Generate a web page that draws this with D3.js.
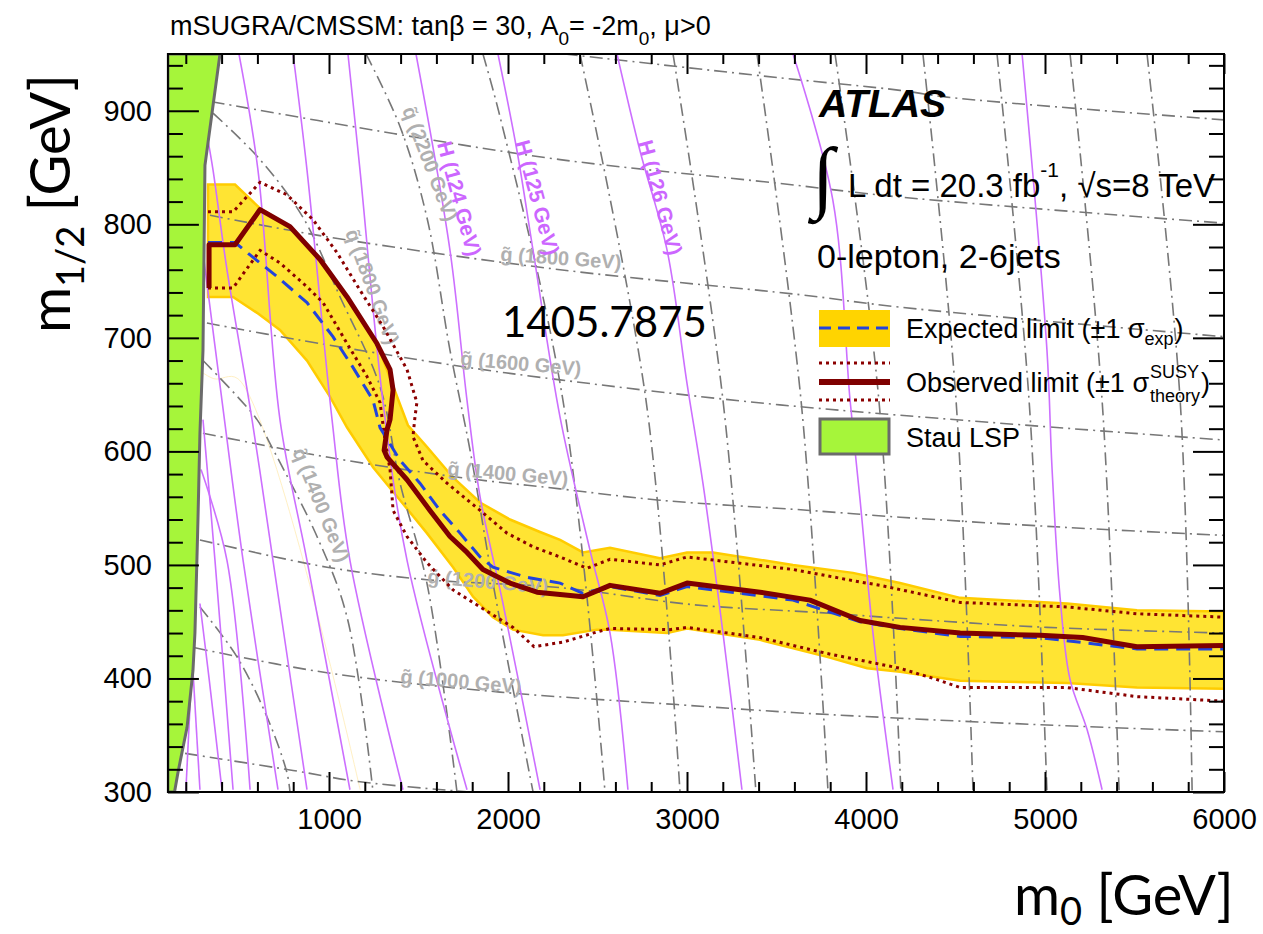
<!DOCTYPE html>
<html lang="en">
<head>
<meta charset="UTF-8">
<title>mSUGRA/CMSSM exclusion</title>
<script src="https://cdn.jsdelivr.net/npm/d3@7"></script>
<style>
body{margin:0;background:#fff}
svg text{font-family:"Liberation Sans",Arial,Helvetica,sans-serif}
.calibri{font-family:Lato,"Open Sans",sans-serif}
</style>
</head>
<body>
<svg id="chart" width="1263" height="934"></svg>
<script>
// ── axis ticks ──
var xMajor = [1000, 2000, 3000, 4000, 5000, 6000];
var xMinor = d3.range(200, 6001, 200).filter(function(v) { return v % 1000; });
var yMajor = [300, 400, 500, 600, 700, 800, 900];
var yMinor = d3.range(300, 951, 20).filter(function(v) { return v % 100; });

// ── limits [m0, m1/2] ──
var bandUpper = [[324,835],[475,835],[615,814],[782,798],[950,769],[1101,736],[1268,695],[1352,660],[1441,623],[1547,604],[1693,577],[1844,555],[2011,540],[2179,529],[2291,522],[2419,511],[2570,515],[2849,506],[3000,511],[3145,511],[3592,500],[3927,493],[4190,484],[4526,471],[5123,466],[5514,460],[6000,459]];
var bandLower = [[324,736],[464,736],[598,722],[726,707],[877,680],[1006,648],[1101,621],[1246,586],[1397,557],[1547,528],[1693,498],[1805,472],[1916,454],[2028,443],[2196,438],[2307,438],[2497,443],[2570,443],[2889,440],[3000,444],[3408,434],[3782,419],[4006,409],[4190,406],[4526,398],[5123,396],[5514,392],[6000,391]];
var expected = [[324,784],[475,784],[559,773],[710,754],[877,731],[1022,701],[1134,674],[1246,645],[1285,621],[1397,592],[1508,572],[1620,548],[1732,528],[1844,507],[1916,498],[2106,489],[2291,484],[2419,475],[2570,481],[2849,473],[3000,481],[3592,469],[3967,450],[4190,444],[4526,437],[4973,436],[5514,426],[6000,426]];
var observed = [[330,744],[330,782],[475,782],[615,813],[782,798],[950,769],[1101,736],[1268,695],[1341,672],[1358,654],[1341,628],[1324,619],[1308,601],[1324,595],[1436,575],[1564,548],[1676,525],[1771,511],[1860,496],[2011,484],[2162,476],[2291,474],[2419,472],[2570,482],[2849,475],[3000,484],[3408,476],[3687,469],[3967,451],[4190,445],[4526,440],[4973,438],[5210,436],[5514,428],[6000,429]];
var obsUp = [[324,811],[464,811],[615,837],[765,826],[911,804],[1045,775],[1173,742],[1302,710],[1436,672],[1491,643],[1480,630],[1469,613],[1525,592],[1659,572],[1844,548],[1994,528],[2140,516],[2291,507],[2441,497],[2570,505],[2849,500],[3000,507],[3592,496],[3967,485],[4079,482],[4526,467],[5123,463],[5514,457],[6000,454]];
var obsDown = [[324,744],[464,744],[615,777],[726,766],[877,745],[967,731],[1101,695],[1212,666],[1285,643],[1313,610],[1341,584],[1358,548],[1436,525],[1547,502],[1693,478],[1844,463],[2028,445],[2145,428],[2307,432],[2497,441],[2570,444],[2905,443],[3000,445],[3408,436],[3782,422],[4190,409],[4397,399],[4526,392],[5123,392],[5514,384],[6000,380]];
var stauLSP = [[100,950],[391,950],[307,852],[296,689],[279,616],[268,540],[262,504],[251,440],[240,407],[207,357],[156,317],[137,300],[100,300]];

// ── gluino mass contours ──
var gluino = [
  [[2318,950],[3519,929],[4190,918],[4452,912],[6000,892]],
  [[345,908],[1359,880],[2291,857],[3519,836],[4190,824],[6000,801]],
  [[335,808],[989,789],[2291,760],[3631,738],[4190,727],[6000,701]],
  [[318,713],[838,698],[1732,675],[2291,663],[3519,641],[6000,610]],
  [[296,616],[989,595],[1732,577],[2291,567],[2849,557],[3687,548],[4190,542],[5123,533],[6000,526]],
  [[279,522],[989,498],[1547,487],[2291,480],[3034,465],[3743,458],[4190,453],[5011,445],[6000,440]],
  [[251,427],[989,405],[1955,388],[2944,377],[3592,370],[4190,365],[5011,359],[6000,353]],
  [[196,334],[799,319],[1173,309],[1788,300]]
];
// ── squark mass contours ──
var squark = [
  [[279,463],[486,419],[654,366],[765,317],[782,300]],
  [[296,680],[598,628],[670,607],[933,525],[1101,454],[1246,300]],
  [[352,898],[615,857],[855,806],[1062,736],[1285,657],[1397,572],[1547,484],[1715,300]],
  [[1207,950],[1397,886],[1547,806],[1676,689],[1788,601],[1916,484],[2140,300]],
  [[1860,950],[1955,895],[2307,645],[2542,300]],
  [[2402,950],[2771,645],[2961,300]],
  [[2922,950],[3201,645],[3385,300]],
  [[3391,950],[3637,645],[3788,300]],
  [[3827,950],[4072,645],[4195,300]],
  [[4318,950],[4503,645],[4598,300]],
  [[4732,950],[4911,645],[5011,300]],
  [[5140,950],[5319,645],[5414,300]],
  [[5570,950],[5755,645],[5822,300]]
];
// ── Higgs mass contours ──
var higgs = [
  [[228,390],[200,300]],
  [[240,407],[279,302]],
  [[279,466],[330,400],[402,302]],
  [[296,628],[363,504],[464,302]],
  [[285,584],[430,504],[559,302]],
  [[302,768],[402,645],[520,504],[715,302]],
  [[324,874],[352,848],[430,760],[570,628],[687,504],[877,302]],
  [[497,950],[603,848],[726,628],[877,504],[1117,302]],
  [[799,950],[877,848],[1017,628],[1117,504],[1413,302]],
  [[1106,950],[1173,848],[1302,643],[1436,504],[1771,302]],
  [[1486,950],[1676,777],[1771,645],[1844,560],[1972,466],[2179,302]],
  [[1944,950],[2050,865],[2140,777],[2291,630],[2458,513],[2570,440],[2670,302]],
  [[2609,950],[2737,865],[2889,777],[3000,660],[3089,572],[3201,440],[3307,302]],
  [[3592,950],[3815,821],[3911,645],[3967,557],[4039,440],[4151,302]],
  [[4872,950],[5011,689],[5039,586],[5084,472],[5140,399],[5235,355],[5319,302]]
];
var faintLine = [[245,675],[357,664],[491,664],[1174,302]];

// ── contour labels: text, m0, m1/2, angle ──
var grayLabels = [
  ['q\u0303 (2200 GeV)', 1408, 901, 69],
  ['q\u0303 (1800 GeV)', 1090, 793, 70],
  ['q\u0303 (1400 GeV)', 795, 600, 68],
  ['g\u0303 (1800 GeV)', 1955, 768, 4],
  ['g\u0303 (1600 GeV)', 1732, 676, 5],
  ['g\u0303 (1400 GeV)', 1659, 579, 5],
  ['g\u0303 (1200 GeV)', 1547, 484, 5],
  ['g\u0303 (1000 GeV)', 1397, 396, 5]
];
var higgsLabels = [
  ['H (124 GeV)', 1603, 871, 75],
  ['H (125 GeV)', 2039, 872, 75],
  ['H (126 GeV)', 2726, 872, 75]
];

var svg = d3.select('#chart');
var x = d3.scaleLinear().domain([100, 6000]).range([167.9, 1224]);
var y = d3.scaleLinear().domain([300, 950]).range([792, 54]);

svg.append('defs').append('clipPath').attr('id', 'plotClip')
  .append('rect').attr('x', 167.9).attr('y', 54).attr('width', 1224 - 167.9).attr('height', 792 - 54);

var plot = svg.append('g').attr('clip-path', 'url(#plotClip)');
var poly = d3.line().x(function(d) { return x(d[0]); }).y(function(d) { return y(d[1]); });
var smooth = d3.line().x(function(d) { return x(d[0]); }).y(function(d) { return y(d[1]); })
  .curve(d3.curveCatmullRom.alpha(0.5));

// yellow expected band
plot.append('path')
  .attr('d', poly(bandUpper.concat(bandLower.slice().reverse())) + 'Z')
  .attr('fill', '#ffe433').attr('stroke', '#ffcc00').attr('stroke-width', 2.5);

plot.append('path').attr('d', smooth(faintLine))
  .attr('fill', 'none').attr('stroke', '#fff0c4').attr('stroke-width', 1);

// gray sparticle contours
gluino.concat(squark).forEach(function(line) {
  plot.append('path').attr('d', smooth(line))
    .attr('fill', 'none').attr('stroke', '#777').attr('stroke-width', 1.6)
    .attr('stroke-dasharray', '13,5,2,5');
});
// purple higgs contours
higgs.forEach(function(line) {
  plot.append('path').attr('d', smooth(line))
    .attr('fill', 'none').attr('stroke', '#cc6fff').attr('stroke-width', 1.6);
});

grayLabels.forEach(function(l) {
  plot.append('text')
    .attr('transform', 'translate(' + x(l[1]) + ',' + y(l[2]) + ') rotate(' + l[3] + ')')
    .attr('font-size', 20).attr('font-weight', 'bold').attr('fill', '#b0b0b0').text(l[0]);
});
higgsLabels.forEach(function(l) {
  plot.append('text')
    .attr('transform', 'translate(' + x(l[1]) + ',' + y(l[2]) + ') rotate(' + l[3] + ')')
    .attr('font-size', 21).attr('font-weight', 'bold').attr('fill', '#cc66ff').text(l[0]);
});

// limit lines
[obsUp, obsDown].forEach(function(line) {
  plot.append('path').attr('d', poly(line))
    .attr('fill', 'none').attr('stroke', '#8b0000').attr('stroke-width', 3)
    .attr('stroke-dasharray', '3,4');
});
plot.append('path').attr('d', poly(expected))
  .attr('fill', 'none').attr('stroke', '#2244dd').attr('stroke-width', 3)
  .attr('stroke-dasharray', '14,8');
plot.append('path').attr('d', poly(observed))
  .attr('fill', 'none').attr('stroke', '#7f0000').attr('stroke-width', 5)
  .attr('stroke-linejoin', 'round');

// stau LSP region
plot.append('path').attr('d', poly(stauLSP) + 'Z')
  .attr('fill', '#a6f53a').attr('stroke', '#6b6b6b').attr('stroke-width', 3);

// frame + ticks
function ticks(axisFn, values, size, transform, labels) {
  var scale = (axisFn === d3.axisBottom || axisFn === d3.axisTop) ? x : y;
  var a = axisFn(scale).tickValues(values).tickSize(size).tickSizeOuter(0).tickPadding(16)
    .tickFormat(labels ? d3.format('d') : '');
  var g = svg.append('g').attr('transform', transform).call(a);
  g.select('.domain').remove();
  g.selectAll('line').attr('stroke', '#000').attr('stroke-width', 2);
  g.attr('font-size', 29).attr('font-family', '"Liberation Sans",Arial,sans-serif');
  g.selectAll('text').attr('fill', '#000');
  return g;
}
ticks(d3.axisBottom, xMajor, -20, 'translate(0,792)', true);
ticks(d3.axisBottom, xMinor, -10, 'translate(0,792)', false);
ticks(d3.axisTop, xMajor, -20, 'translate(0,54)', false);
ticks(d3.axisTop, xMinor, -10, 'translate(0,54)', false);
ticks(d3.axisLeft, yMajor, -31, 'translate(167.9,0)', true);
ticks(d3.axisLeft, yMinor, -15, 'translate(167.9,0)', false);
ticks(d3.axisRight, yMajor, -31, 'translate(1224,0)', false);
ticks(d3.axisRight, yMinor, -15, 'translate(1224,0)', false);

svg.append('rect').attr('x', 167.9).attr('y', 54).attr('width', 1224 - 167.9).attr('height', 792 - 54)
  .attr('fill', 'none').attr('stroke', '#000').attr('stroke-width', 2);

// title
var title = svg.append('text').attr('x', 170).attr('y', 35).attr('font-size', 27);
title.append('tspan').text('mSUGRA/CMSSM: tan\u03b2 = 30, A');
title.append('tspan').attr('font-size', 19).attr('dy', 10).text('0');
title.append('tspan').attr('dy', -10).text('= -2m');
title.append('tspan').attr('font-size', 19).attr('dy', 10).text('0');
title.append('tspan').attr('dy', -10).text(', \u03bc>0');

// ATLAS block
svg.append('text').attr('x', 819).attr('y', 117).attr('font-size', 39)
  .attr('font-weight', 'bold').attr('font-style', 'italic').text('ATLAS');
svg.append('text').attr('x', 812).attr('y', 203).attr('font-size', 80)
  .style('font-family', '"Liberation Serif",serif').text('\u222b');
var lumi = svg.append('text').attr('x', 848).attr('y', 197).attr('font-size', 33);
lumi.append('tspan').text('L dt = 20.3 fb');
lumi.append('tspan').attr('font-size', 21).attr('dy', -20).text('-1');
lumi.append('tspan').attr('dy', 20).text(', \u221as=8 TeV');
svg.append('text').attr('x', 817).attr('y', 268).attr('font-size', 34).text('0-lepton, 2-6jets');

// legend
var lg = svg.append('g');
lg.append('rect').attr('x', 819).attr('y', 310).attr('width', 71).attr('height', 37).attr('fill', '#ffd400');
lg.append('line').attr('x1', 819).attr('x2', 890).attr('y1', 328).attr('y2', 328)
  .attr('stroke', '#2244dd').attr('stroke-width', 3).attr('stroke-dasharray', '12,7');
[363, 400].forEach(function(yy) {
  lg.append('line').attr('x1', 819).attr('x2', 890).attr('y1', yy).attr('y2', yy)
    .attr('stroke', '#8b0000').attr('stroke-width', 3).attr('stroke-dasharray', '3,4');
});
lg.append('line').attr('x1', 819).attr('x2', 890).attr('y1', 382).attr('y2', 382)
  .attr('stroke', '#7f0000').attr('stroke-width', 6);
lg.append('rect').attr('x', 820).attr('y', 419).attr('width', 69).attr('height', 35)
  .attr('fill', '#a6f53a').attr('stroke', '#6b6b6b').attr('stroke-width', 3);

var e1 = lg.append('text').attr('x', 906).attr('y', 338).attr('font-size', 27).text('Expected limit (\u00b11 \u03c3');
var w1 = e1.node().getComputedTextLength();
var e2 = lg.append('text').attr('x', 906 + w1).attr('y', 345).attr('font-size', 18).text('exp');
var w2 = e2.node().getComputedTextLength();
lg.append('text').attr('x', 906 + w1 + w2 + 1).attr('y', 338).attr('font-size', 27).text(')');

var o1 = lg.append('text').attr('x', 906).attr('y', 392).attr('font-size', 27).text('Observed limit (\u00b11 \u03c3');
var v1 = o1.node().getComputedTextLength();
var o2 = lg.append('text').attr('x', 906 + v1 + 1).attr('y', 378).attr('font-size', 18).text('SUSY');
var o3 = lg.append('text').attr('x', 906 + v1 + 1).attr('y', 402).attr('font-size', 18).text('theory');
var v3 = Math.max(o2.node().getComputedTextLength(), o3.node().getComputedTextLength());
lg.append('text').attr('x', 906 + v1 + v3 + 2).attr('y', 392).attr('font-size', 27).text(')');
lg.append('text').attr('x', 906).attr('y', 447).attr('font-size', 27).text('Stau LSP');

// slide annotations
svg.append('text').attr('class', 'calibri').attr('x', 502).attr('y', 337).attr('font-size', 42).text('1405.7875');

var xt = svg.append('text').attr('class', 'calibri').attr('x', 1014).attr('y', 915).attr('font-size', 56);
xt.append('tspan').text('m');
xt.append('tspan').attr('font-size', 38).attr('dy', 10).text('0');
xt.append('tspan').attr('dy', -10).text(' [GeV]');

var yt = svg.append('text').attr('class', 'calibri').attr('transform', 'translate(70,333) rotate(-90)').attr('font-size', 56);
yt.append('tspan').text('m');
yt.append('tspan').attr('font-size', 38).attr('dy', 14).text('1/2');
yt.append('tspan').attr('dy', -14).text(' [GeV]');
</script>
</body>
</html>
